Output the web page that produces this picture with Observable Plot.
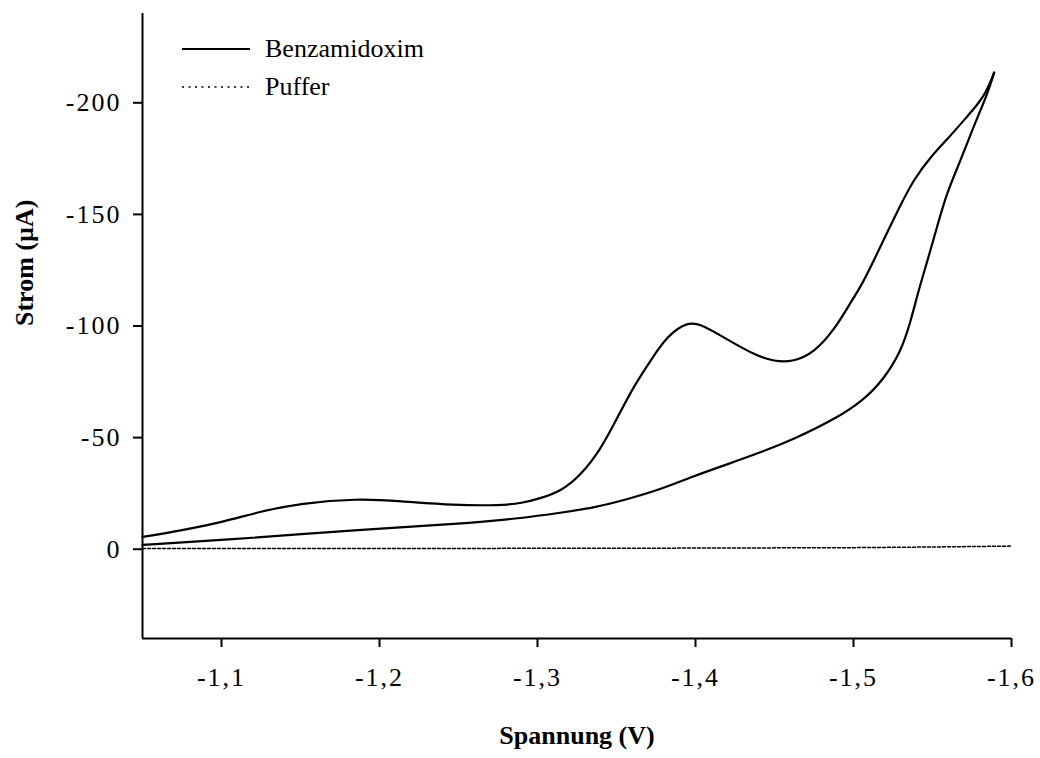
<!DOCTYPE html>
<html>
<head>
<meta charset="utf-8">
<script src="https://cdn.jsdelivr.net/npm/d3@7"></script>
<script src="https://cdn.jsdelivr.net/npm/@observablehq/plot@0.6"></script>
<style>
  body { margin: 0; background: #fff; }
  #wrap { position: relative; width: 1040px; height: 758px; font-family: "Liberation Serif", "Times New Roman", serif; }
  #legend { position: absolute; left: 182px; top: 30px; font-size: 26px; color: #000; }
  .row { display: flex; align-items: center; height: 38px; }
  .row svg { margin-right: 15px; }
  #chart g[aria-label="x-axis tick label"] text, #chart g[aria-label="y-axis tick label"] text { letter-spacing: 2px; }
</style>
</head>
<body>
<div id="wrap">
  <div id="chart"></div>
  <div id="legend"></div>
</div>
<script>
// Benzamidoxim cyclic voltammogram – forward branch (with peaks)
const fwdV = [-1.05, -1.075, -1.1, -1.125, -1.15, -1.186, -1.213, -1.247, -1.277, -1.29, -1.302, -1.315, -1.327, -1.34, -1.35, -1.361, -1.372, -1.382, -1.395, -1.405, -1.42, -1.437, -1.45, -1.462, -1.475, -1.488, -1.498, -1.504, -1.513, -1.521, -1.53, -1.538, -1.549, -1.561, -1.572, -1.583, -1.589];
const fwdI = [-5.5, -8.5, -12, -17, -20.6, -22.7, -21.6, -19.7, -19.6, -20.6, -22.8, -26.1, -32.8, -44.7, -58.2, -73.1, -85, -95.4, -102.2, -100.3, -94, -87.2, -84, -84, -88, -98.4, -110.4, -116.8, -129.5, -141.5, -154.5, -165.5, -176, -184.9, -193.9, -202.8, -213.5];
// Benzamidoxim – return branch
const retV = [-1.589, -1.585, -1.576, -1.568, -1.559, -1.553, -1.547, -1.541, -1.536, -1.53, -1.519, -1.506, -1.488, -1.462, -1.441, -1.42, -1.399, -1.378, -1.357, -1.336, -1.315, -1.29, -1.25, -1.192, -1.1, -1.05];
const retI = [-213.5, -204.3, -189.4, -174.5, -159.6, -144.7, -129.7, -115.5, -101.5, -88.5, -76, -66.5, -58.2, -49.2, -43.3, -38, -32.8, -26.8, -22.4, -18.6, -16.4, -13.9, -11.3, -9, -4, -1.9];
// Puffer (buffer) baseline
const pufferV = [-1.05, -1.2, -1.3, -1.4, -1.5, -1.55, -1.6];
const pufferI = [-0.3, -0.3, -0.4, -0.5, -0.7, -1.0, -1.4];

const seriesNames = ["Benzamidoxim", "Puffer"];
const xTicks = [-1.1, -1.2, -1.3, -1.4, -1.5, -1.6];
const yTicks = [0, -50, -100, -150, -200];
const xLabel = "Spannung (V)";
const yLabel = "Strom (µA)";

const benz = [
  ...fwdV.map((v, i) => ({V: v, I: fwdI[i], branch: "fwd"})),
  ...retV.map((v, i) => ({V: v, I: retI[i], branch: "ret"}))
];
const puffer = pufferV.map((v, i) => ({V: v, I: pufferI[i]}));

const fmtX = d => "-" + Math.abs(d).toFixed(1).replace(".", ",");
const fmtY = d => d === 0 ? "0" : "-" + Math.abs(d);
const font = "Liberation Serif, Times New Roman, serif";

const chart = Plot.plot({
  width: 1040,
  height: 758,
  marginLeft: 142,
  marginRight: 29,
  marginTop: 13,
  marginBottom: 120,
  style: {fontFamily: font, color: "#000", background: "#fff"},
  x: {domain: [-1.05, -1.6]},
  y: {domain: [40, -240]},
  marks: [
    Plot.axisX({ticks: xTicks, tickFormat: fmtX, tickSize: 9, tickPadding: 20, fontSize: 26, strokeWidth: 2, label: null}),
    Plot.axisY({ticks: yTicks, tickFormat: fmtY, tickSize: 9, tickPadding: 12, fontSize: 26, strokeWidth: 2, label: null}),
    Plot.ruleX([-1.05], {strokeWidth: 2}),
    Plot.ruleY([40], {strokeWidth: 2}),
    Plot.line(puffer, {x: "V", y: "I", stroke: "#000", strokeWidth: 1.5, strokeDasharray: "3,2"}),
    Plot.line(benz, {x: "V", y: "I", z: "branch", stroke: "#000", strokeWidth: 2.2, curve: "basis", strokeLinejoin: "round"}),
    Plot.text([xLabel], {frameAnchor: "bottom", dy: 105, fontSize: 26, fontWeight: "bold", fill: "#000"}),
    Plot.text([yLabel], {frameAnchor: "left", dx: -118, rotate: -90, fontSize: 26, fontWeight: "bold", fill: "#000"})
  ]
});
document.getElementById("chart").appendChild(chart);

const legend = document.getElementById("legend");
seriesNames.forEach((name, i) => {
  const row = document.createElement("div");
  row.className = "row";
  const dash = i === 0 ? "" : 'stroke-dasharray="2,4.5"';
  const sw = i === 0 ? 2.2 : 1.5;
  row.innerHTML = `<svg width="68" height="10"><line x1="0" y1="5" x2="68" y2="5" stroke="#000" stroke-width="${sw}" ${dash}/></svg><span>${name}</span>`;
  legend.appendChild(row);
});
</script>
</body>
</html>
